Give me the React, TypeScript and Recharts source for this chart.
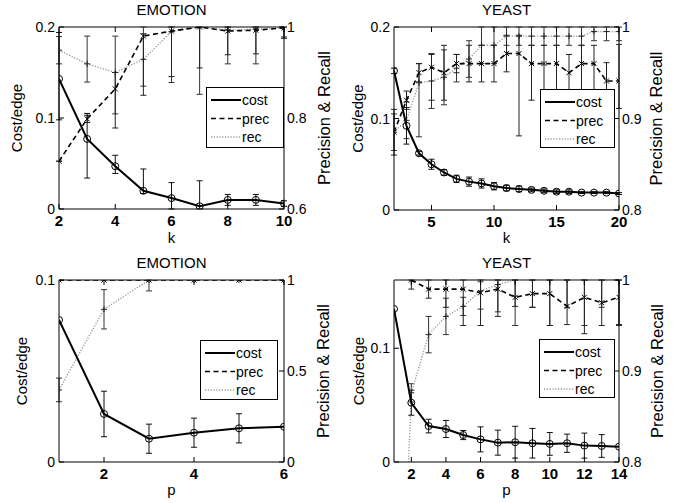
import React from 'react';
import { ComposedChart, Line, XAxis, YAxis, ErrorBar, ReferenceLine, Legend } from 'recharts';

const FONT = '"Liberation Sans", Arial, Helvetica, sans-serif';

type Err = number | [number, number];

// ---------- Legend entries ----------
const seriesNames = ['cost', 'prec', 'rec'];

// ---------- Panel 1: EMOTION vs k ----------
const kEmo = [2, 3, 4, 5, 6, 7, 8, 9, 10];
const costKEmo = [0.143, 0.077, 0.047, 0.02, 0.012, 0.003, 0.01, 0.01, 0.006];
const costKEmoErr: Err[] = [[0.045, 0.051], [0.043, 0.028], [0.008, 0.012], [0.003, 0.024], [0.012, 0.017], [0.003, 0.028], [0.006, 0.006], [0.006, 0.006], [0.003, 0.003]];
const precKEmo = [0.705, 0.798, 0.864, 0.98, 0.991, 1.0, 0.991, 0.993, 0.998];
const precKEmoErr: Err[] = [[0, 0], [0.008, 0.008], [0.086, 0.036], [0.13, 0.005], [0.1, 0.009], [0.09, 0], [0.052, 0.009], [0.052, 0.007], [0.02, 0.002]];
const recKEmo = [0.949, 0.919, 0.9, 0.929, 0.99, 1.0, 0.993, 0.995, 0.998];
const recKEmoErr: Err[] = [[0.03, 0.03], [0.04, 0.061], [0.091, 0.08], [0.059, 0.071], [0.112, 0.01], [0.148, 0], [0.074, 0.007], [0.076, 0.005], [0.023, 0.002]];

// ---------- Panel 2: YEAST vs k ----------
const kYeast = [2, 3, 4, 5, 6, 7, 8, 9, 10, 11, 12, 13, 14, 15, 16, 17, 18, 19, 20];
const costKYeast = [0.152, 0.092, 0.062, 0.05, 0.041, 0.034, 0.031, 0.029, 0.026, 0.024, 0.023, 0.022, 0.021, 0.02, 0.02, 0.019, 0.019, 0.019, 0.018];
const costKYeastErr: Err[] = [0.003, 0.02, 0.002, 0.0055, 0.003, 0.004, 0.005, 0.005, 0.004, 0.003, 0.003, 0.002, 0.002, 0.002, 0.002, 0.001, 0.001, 0.001, 0.001];
const precKYeast = [0.885, 0.92, 0.95, 0.956, 0.95, 0.96, 0.96, 0.96, 0.96, 0.971, 0.971, 0.96, 0.96, 0.96, 0.95, 0.96, 0.96, 0.941, 0.941];
const precKYeastErr: Err[] = [0.025, 0.01, 0.01, [0.036, 0.014], 0.03, 0.01, 0.02, 0.02, 0.02, 0.02, [0.09, 0.02], [0.04, 0.02], [0.04, 0.02], [0.035, 0.02], [0.03, 0.02], [0.035, 0.02], [0.04, 0.02], [0.03, 0.02], [0.03, 0.04]];
const recKYeast = [0.885, 0.898, 0.939, 0.941, 0.945, 0.955, 0.965, 0.98, 0.98, 0.99, 0.99, 0.99, 0.99, 0.99, 0.99, 0.99, 0.995, 0.995, 0.995];
const recKYeastErr: Err[] = [0.02, 0.02, [0.059, 0.021], 0.03, 0.03, 0.015, 0.02, 0.02, 0.02, 0.01, 0.01, 0.01, 0.01, 0.01, 0.01, 0.01, [0.01, 0.005], [0.01, 0.005], [0.01, 0.005]];

// ---------- Panel 3: EMOTION vs p ----------
const pEmo = [1, 2, 3, 4, 5, 6];
const costPEmo = [0.078, 0.0264, 0.0128, 0.0161, 0.0185, 0.0194];
const costPEmoErr: Err[] = [0, 0.0125, 0.008, 0.008, 0.008, 0];
const precPEmo = [1, 1, 1, 1, 1, 1];
const precPEmoErr: Err[] = [0, 0, 0, 0, 0, 0];
const recPEmo = [0.396, 0.839, 1, 1, 1, 1];
const recPEmoErr: Err[] = [0.065, 0.108, [0.06, 0], 0, 0, 0];

// ---------- Panel 4: YEAST vs p ----------
const pYeast = [1, 2, 3, 4, 5, 6, 7, 8, 9, 10, 11, 12, 13, 14];
const costPYeast = [0.1345, 0.0521, 0.0316, 0.029, 0.0237, 0.0199, 0.017, 0.0174, 0.0165, 0.0159, 0.0165, 0.0144, 0.0141, 0.0135];
const costPYeastErr: Err[] = [0, 0.011, 0.006, 0.0075, 0.004, 0.011, 0.011, 0.014, 0.013, 0.01, 0.008, 0.011, 0.01, 0];
const precPYeast: (number | null)[] = [null, 1.0, 0.99, 0.99, 0.99, 0.986, 0.99, 0.981, 0.985, 0.985, 0.971, 0.981, 0.975, 0.981];
const precPYeastErr: Err[] = [0, [0.01, 0], [0.01, 0.01], [0.02, 0.01], [0.04, 0.01], [0.036, 0.014], [0.03, 0.01], [0.01, 0.019], [0.015, 0.015], [0.035, 0.015], [0.02, 0.029], [0.04, 0.019], [0.025, 0.025], [0.03, 0.019]];
const recPYeast = [0.4, 0.876, 0.94, 0.96, 0.971, 0.988, 0.995, 1, 1, 1, 1, 1, 1, 1];
const recPYeastErr: Err[] = [0, 0.01, 0.02, 0.02, 0.01, [0.02, 0.01], [0.03, 0.005], [0.05, 0], [0.03, 0], [0.05, 0], [0.03, 0], [0.05, 0], [0.03, 0], [0.05, 0]];

function buildRows(
  xs: number[], cost: number[], costErr: Err[],
  prec: (number | null)[], precErr: Err[], rec: number[], recErr: Err[]
) {
  return xs.map((x, i) => ({
    x,
    cost: cost[i], costErr: costErr[i],
    prec: prec[i], precErr: precErr[i],
    rec: rec[i], recErr: recErr[i],
  }));
}

// ---------- markers ----------
const CircleDot = (props: any) => {
  const { cx, cy, index } = props;
  if (cx == null || cy == null || Number.isNaN(cy)) return <g key={`c${index}`} />;
  return <circle key={`c${index}`} cx={cx} cy={cy} r={3.5} fill="none" stroke="#000" strokeWidth={1} />;
};
const CrossDot = (props: any) => {
  const { cx, cy, index } = props;
  if (cx == null || cy == null || Number.isNaN(cy)) return <g key={`x${index}`} />;
  const s = 2.5;
  return (
    <g key={`x${index}`} stroke="#000" strokeWidth={1}>
      <line x1={cx - s} y1={cy - s} x2={cx + s} y2={cy + s} />
      <line x1={cx - s} y1={cy + s} x2={cx + s} y2={cy - s} />
    </g>
  );
};
const PlusDot = (props: any) => {
  const { cx, cy, index } = props;
  if (cx == null || cy == null || Number.isNaN(cy)) return <g key={`p${index}`} />;
  const s = 3;
  return (
    <g key={`p${index}`} stroke="#222" strokeWidth={1}>
      <line x1={cx - s} y1={cy} x2={cx + s} y2={cy} />
      <line x1={cx} y1={cy - s} x2={cx} y2={cy + s} />
    </g>
  );
};

// ---------- ticks ----------
const makeXTick = (plotTop: number, labelDy: number) => (props: any) => {
  const { x, y, payload } = props;
  return (
    <g>
      <line x1={x} x2={x} y1={y} y2={y - 5} stroke="#000" />
      <line x1={x} x2={x} y1={plotTop} y2={plotTop + 5} stroke="#000" />
      <text x={x} y={y + labelDy} textAnchor="middle" fontSize={15} fontWeight="bold" fontFamily={FONT} fill="#000">
        {payload.value}
      </text>
    </g>
  );
};
const LeftTick = (props: any) => {
  const { x, y, payload } = props;
  return (
    <g>
      <line x1={x} x2={x + 5} y1={y} y2={y} stroke="#000" />
      <text x={x - 4} y={y + 5} textAnchor="end" fontSize={14} fontFamily={FONT} fill="#000">
        {payload.value}
      </text>
    </g>
  );
};
const RightTick = (props: any) => {
  const { x, y, payload } = props;
  return (
    <g>
      <line x1={x} x2={x - 5} y1={y} y2={y} stroke="#000" />
      <text x={x + 3} y={y + 5} textAnchor="start" fontSize={14} fontFamily={FONT} fill="#000">
        {payload.value}
      </text>
    </g>
  );
};

// ---------- legend ----------
const legendStyles = [
  { stroke: '#000', dash: undefined as string | undefined, w: 2 },
  { stroke: '#000', dash: '5 3.5', w: 1.6 },
  { stroke: '#999', dash: '1.2 1.6', w: 1.4 },
];
const LegendBox = ({ w, h }: { w: number; h: number }) => (
  <div style={{ boxSizing: 'border-box', width: w, height: h, border: '1px solid #000', background: '#fff' }}>
    <svg width={w - 2} height={h - 2} style={{ display: 'block' }}>
      {seriesNames.map((name, i) => {
        const cy = 12 + i * 18.5;
        const st = legendStyles[i];
        return (
          <g key={name}>
            <line x1={4} x2={34} y1={cy} y2={cy} stroke={st.stroke} strokeWidth={st.w} strokeDasharray={st.dash} />
            <text x={35} y={cy + 5} fontSize={14} fontFamily={FONT} fill="#000">{name}</text>
          </g>
        );
      })}
    </svg>
  </div>
);

type PanelCfg = {
  left: number; top: number; width: number; height: number;
  marginTop: number; xAxisHeight: number; leftW: number; rightW: number;
  title: string; xLabel: string;
  xDomain: [number, number]; xTicks: number[];
  lDomain: [number, number]; lTicks: number[];
  rDomain: [number, number]; rTicks: number[];
  rows: any[];
  legend: [number, number, number, number];
  yLabelX: number; rLabelX: number;
  tickDy: number; xLabelDy: number;
};

function Panel({ c }: { c: PanelCfg }) {
  const plotTop = c.marginTop;
  const plotBottom = c.height - c.xAxisHeight;
  const midY = (plotTop + plotBottom) / 2;
  const plotLeft = c.leftW;
  const plotRight = c.width - c.rightW;
  const midX = (plotLeft + plotRight) / 2;
  return (
    <div style={{ position: 'absolute', left: c.left, top: c.top, width: c.width, height: c.height }}>
      <ComposedChart width={c.width} height={c.height} data={c.rows} margin={{ top: plotTop, right: 0, bottom: 0, left: 0 }}>
        <XAxis
          dataKey="x" type="number" domain={c.xDomain} ticks={c.xTicks} interval={0}
          height={c.xAxisHeight} tickSize={0} tickMargin={0} tickLine={false}
          axisLine={{ stroke: '#000', strokeWidth: 1 }} tick={makeXTick(plotTop, c.tickDy)} allowDataOverflow
          label={() => (
            <text x={midX} y={plotBottom + c.xLabelDy} textAnchor="middle" fontSize={15} fontFamily={FONT} fill="#000">{c.xLabel}</text>
          )}
        />
        <YAxis
          yAxisId="left" type="number" domain={c.lDomain} ticks={c.lTicks} interval={0} width={c.leftW}
          tickSize={0} tickMargin={0} tickLine={false} axisLine={{ stroke: '#000', strokeWidth: 1 }}
          tick={LeftTick} allowDataOverflow
          label={() => (
            <text x={c.yLabelX} y={midY} transform={`rotate(-90 ${c.yLabelX} ${midY})`} textAnchor="middle"
              dominantBaseline="central" fontSize={15} fontFamily={FONT} fill="#000">Cost/edge</text>
          )}
        />
        <YAxis
          yAxisId="right" orientation="right" type="number" domain={c.rDomain} ticks={c.rTicks} interval={0}
          width={c.rightW} tickSize={0} tickMargin={0} tickLine={false}
          axisLine={{ stroke: '#000', strokeWidth: 1 }} tick={RightTick} allowDataOverflow
          label={() => (
            <text x={c.rLabelX} y={midY} transform={`rotate(-90 ${c.rLabelX} ${midY})`} textAnchor="middle"
              dominantBaseline="central" fontSize={16.5} fontFamily={FONT} fill="#000">Precision &amp; Recall</text>
          )}
        />
        <ReferenceLine
          yAxisId="left" y={c.lDomain[1]} stroke="#000" strokeWidth={1}
          label={() => (
            <text x={midX} y={plotTop - 12} textAnchor="middle" fontSize={15} fontFamily={FONT} fill="#000">{c.title}</text>
          )}
        />
        <Line yAxisId="right" type="linear" dataKey="rec" stroke="#999" strokeWidth={1.4} strokeDasharray="1.2 1.6"
          dot={PlusDot} activeDot={false} isAnimationActive={false} connectNulls={false}>
          <ErrorBar dataKey="recErr" width={3} stroke="#333" strokeWidth={1} direction="y" />
        </Line>
        <Line yAxisId="right" type="linear" dataKey="prec" stroke="#000" strokeWidth={1.6} strokeDasharray="5 3.5"
          dot={CrossDot} activeDot={false} isAnimationActive={false} connectNulls={false}>
          <ErrorBar dataKey="precErr" width={3} stroke="#222" strokeWidth={1} direction="y" />
        </Line>
        <Line yAxisId="left" type="linear" dataKey="cost" stroke="#000" strokeWidth={2}
          dot={CircleDot} activeDot={false} isAnimationActive={false}>
          <ErrorBar dataKey="costErr" width={3} stroke="#111" strokeWidth={1} direction="y" />
        </Line>
        <Legend
          layout="horizontal" verticalAlign="middle" align="center"
          wrapperStyle={{ position: 'absolute', left: c.legend[0], top: c.legend[1], width: c.legend[2], height: c.legend[3], margin: 0, padding: 0 }}
          content={() => <LegendBox w={c.legend[2]} h={c.legend[3]} />}
        />
      </ComposedChart>
    </div>
  );
}

const panels: PanelCfg[] = [
  {
    left: 0, top: 0, width: 338, height: 250, marginTop: 27, xAxisHeight: 41, leftW: 59, rightW: 54,
    title: 'EMOTION', xLabel: 'k', xDomain: [2, 10], xTicks: [2, 4, 6, 8, 10],
    lDomain: [0, 0.2], lTicks: [0, 0.1, 0.2], rDomain: [0.6, 1], rTicks: [0.6, 0.8, 1],
    rows: buildRows(kEmo, costKEmo, costKEmoErr, precKEmo, precKEmoErr, recKEmo, recKEmoErr),
    legend: [206, 87, 78, 61], yLabelX: 16, rLabelX: 324, tickDy: 17, xLabelDy: 34,
  },
  {
    left: 337, top: 0, width: 340, height: 250, marginTop: 27, xAxisHeight: 40, leftW: 57, rightW: 58,
    title: 'YEAST', xLabel: 'k', xDomain: [2, 20], xTicks: [5, 10, 15, 20],
    lDomain: [0, 0.2], lTicks: [0, 0.1, 0.2], rDomain: [0.8, 1], rTicks: [0.8, 0.9, 1],
    rows: buildRows(kYeast, costKYeast, costKYeastErr, precKYeast, precKYeastErr, recKYeast, recKYeastErr),
    legend: [203, 89, 75, 59], yLabelX: 20, rLabelX: 319, tickDy: 17, xLabelDy: 33,
  },
  {
    left: 0, top: 250, width: 338, height: 253, marginTop: 30, xAxisHeight: 41, leftW: 59, rightW: 54,
    title: 'EMOTION', xLabel: 'p', xDomain: [1, 6], xTicks: [2, 4, 6],
    lDomain: [0, 0.1], lTicks: [0, 0.1], rDomain: [0, 1], rTicks: [0, 0.5, 1],
    rows: buildRows(pEmo, costPEmo, costPEmoErr, precPEmo, precPEmoErr, recPEmo, recPEmoErr),
    legend: [200, 90, 78, 60], yLabelX: 21, rLabelX: 323, tickDy: 17, xLabelDy: 33,
  },
  {
    left: 337, top: 250, width: 340, height: 253, marginTop: 30, xAxisHeight: 41, leftW: 57, rightW: 58,
    title: 'YEAST', xLabel: 'p', xDomain: [1, 14], xTicks: [2, 4, 6, 8, 10, 12, 14],
    lDomain: [0, 0.16], lTicks: [0, 0.1], rDomain: [0.8, 1], rTicks: [0.8, 0.9, 1],
    rows: buildRows(pYeast, costPYeast, costPYeastErr, precPYeast, precPYeastErr, recPYeast, recPYeastErr),
    legend: [202, 89, 76, 59], yLabelX: 21, rLabelX: 320, tickDy: 17, xLabelDy: 33,
  },
];

export default function App() {
  return (
    <div style={{ position: 'absolute', left: 0, top: 0, width: 677, height: 503, background: '#fff', fontFamily: FONT }}>
      {panels.map((c, i) => <Panel key={i} c={c} />)}
    </div>
  );
}
